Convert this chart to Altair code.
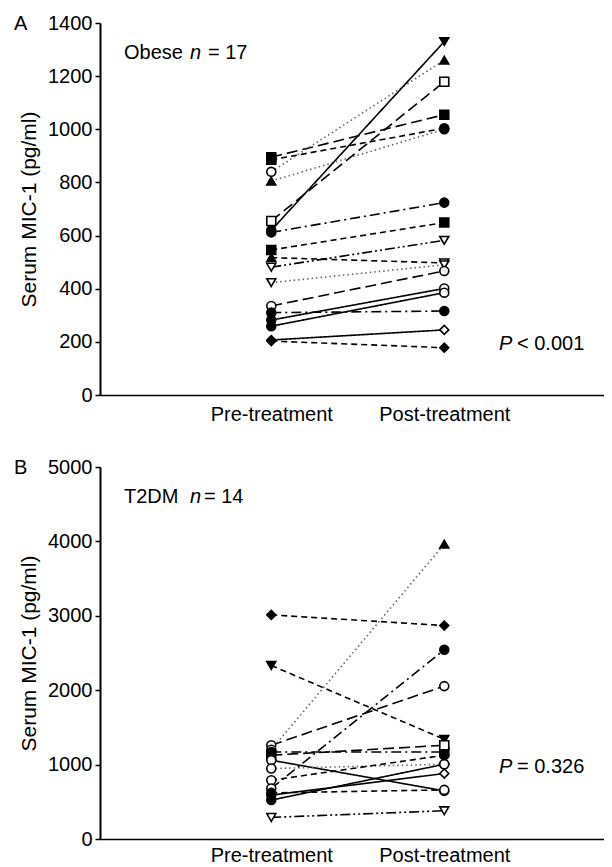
import altair as alt
import pandas as pd

# ---------------- data ----------------
phase_labels = ["Pre-treatment", "Post-treatment"]

# Panel A: Obese (n = 17)
A_pre = [895, 885, 840, 805, 655, 620, 612, 546, 517, 481, 423, 335, 310, 282, 259, 207, 203]
A_post = [1055, 1004, 1260, 1000, 1179, 1330, 724, 649, 497, 582, 490, 467, 316, 401, 385, 245, 178]
A_pre_shape = ["square", "square", "circle", "triangle-up", "square", "circle", "circle", "square",
               "triangle-up", "triangle-down", "triangle-down", "circle", "circle", "circle", "circle",
               "diamond", "diamond"]
A_pre_fill = ["F", "F", "O", "F", "O", "F", "F", "F", "F", "O", "O", "O", "F", "F", "F", "O", "F"]
A_post_shape = ["square", "circle", "triangle-up", "circle", "square", "triangle-down", "circle", "square",
                "triangle-down", "triangle-down", "triangle-down", "circle", "circle", "circle", "circle",
                "diamond", "diamond"]
A_post_fill = ["F", "F", "F", "F", "O", "F", "F", "F", "O", "O", "O", "O", "F", "O", "O", "O", "F"]
A_dash = ["longdash", "dash", "dot", "dot", "longdash", "solid", "dashdot", "dash", "dash", "dashdotdot",
          "dot", "longdash", "dashdot", "solid", "solid", "solid", "dash"]

# Panel B: T2DM (n = 14)
B_pre = [3012, 2332, 1260, 1200, 1170, 1126, 1059, 947, 790, 679, 620, 590, 523, 290]
B_post = [2869, 1340, 2055, 3963, 1170, 1260, 647, 1005, 1126, 2543, 660, 880, 1005, 380]
B_pre_shape = ["diamond", "triangle-down", "circle", "circle", "circle", "square", "circle", "circle",
               "circle", "circle", "circle", "circle", "circle", "triangle-down"]
B_pre_fill = ["F", "F", "O", "O", "F", "F", "O", "O", "O", "O", "F", "F", "F", "O"]
B_post_shape = ["diamond", "triangle-down", "circle", "triangle-up", "square", "square", "circle", "circle",
                "circle", "circle", "circle", "diamond", "circle", "triangle-down"]
B_post_fill = ["F", "F", "O", "F", "F", "O", "O", "O", "F", "F", "O", "O", "O", "O"]
B_dash = ["dash", "dash", "longdash", "dot", "dashdot", "longdash", "solid", "dot", "dash", "dashdot",
          "dash", "solid", "solid", "dashdotdot"]

dash_names = ["solid", "dash", "longdash", "dot", "dashdot", "dashdotdot"]
dash_patterns = [[1, 0], [6, 4], [11, 5], [1.5, 3], [10, 4, 2, 4], [10, 3, 2, 3, 2, 3]]
dash_colors = ["black", "black", "black", "#666666", "black", "black"]

FONT = "Liberation Sans"
PLOT_W = 504
PLOT_H = 372
X_MIN = 0.01
X_MAX = X_MIN + PLOT_W / 173.0


def make_df(pre, post, pre_s, pre_f, post_s, post_f, dash):
    rows = []
    for i in range(len(pre)):
        rows.append(dict(subj=i, phase=1, value=pre[i], shape=pre_s[i], fill=pre_f[i], dash=dash[i]))
        rows.append(dict(subj=i, phase=2, value=post[i], shape=post_s[i], fill=post_f[i], dash=dash[i]))
    return pd.DataFrame(rows)


def label(text, x, y, italic=False, size=20, align="left"):
    kw = dict(text=text, font=FONT, fontSize=size, align=align, baseline="alphabetic", color="black")
    if italic:
        kw["fontStyle"] = "italic"
    return alt.Chart(pd.DataFrame({"a": [0]})).mark_text(**kw).encode(x=alt.value(x), y=alt.value(y))


def panel(df, ymax, ystep, letter, group, n, n_x, ptext, xpad):
    x_enc = alt.X(
        "phase:Q",
        scale=alt.Scale(domain=[X_MIN, X_MAX], nice=False, zero=False),
        axis=alt.Axis(values=[1, 2], title=None, ticks=False, tickSize=0, grid=False,
                      labelExpr="datum.value == 1 ? '" + phase_labels[0] + "' : '" + phase_labels[1] + "'",
                      labelFont=FONT, labelFontSize=20, labelColor="black", labelPadding=xpad,
                      domainColor="black", domainWidth=1.6),
    )
    y_enc = alt.Y(
        "value:Q",
        scale=alt.Scale(domain=[0, ymax], nice=False),
        axis=alt.Axis(values=list(range(0, ymax + 1, ystep)), format="d", title="Serum MIC-1 (pg/ml)",
                      grid=False,
                      labelFont=FONT, labelFontSize=20, labelColor="black", labelPadding=3,
                      tickSize=5, tickWidth=1.5, tickColor="black",
                      domainColor="black", domainWidth=2,
                      titleFont=FONT, titleFontSize=21, titleFontWeight="normal", titleColor="black",
                      titlePadding=8),
    )
    base = alt.Chart(df)
    lines = base.mark_line(strokeWidth=1.6).encode(
        x=x_enc, y=y_enc, detail="subj:N",
        strokeDash=alt.StrokeDash("dash:N", scale=alt.Scale(domain=dash_names, range=dash_patterns),
                                  legend=None),
        color=alt.Color("dash:N", scale=alt.Scale(domain=dash_names, range=dash_colors), legend=None),
    )
    pts = base.mark_point(size=80, strokeWidth=1.6, stroke="black", opacity=1, filled=False).encode(
        x=x_enc, y=y_enc,
        shape=alt.Shape("shape:N", scale=alt.Scale(
            domain=["circle", "square", "triangle-up", "triangle-down", "diamond"],
            range=["circle", "square", "triangle-up", "triangle-down", "diamond"]), legend=None),
        fill=alt.Fill("fill:N", scale=alt.Scale(domain=["F", "O"], range=["black", "white"]), legend=None),
    )
    layers = [lines, pts,
              label(letter, -86, 7),
              label(group, 24, 36),
              label("n", 90, 36, italic=True),
              label(n, n_x, 36),
              label("P", 399, ptext[1], italic=True),
              label(ptext[0], 417, ptext[1])]
    return alt.layer(*layers).properties(width=PLOT_W, height=PLOT_H)


dfA = make_df(A_pre, A_post, A_pre_shape, A_pre_fill, A_post_shape, A_post_fill, A_dash)
dfB = make_df(B_pre, B_post, B_pre_shape, B_pre_fill, B_post_shape, B_post_fill, B_dash)

pA = panel(dfA, 1400, 200, "A", "Obese", "= 17", 108, ("< 0.001", 327), 9)
pB = panel(dfB, 5000, 1000, "B", "T2DM", "= 14", 104, ("= 0.326", 306), 6)

chart = (alt.vconcat(pA, pB, spacing=33)
         .configure_view(stroke=None)
         .properties(padding={"left": 6, "top": 5, "right": 0, "bottom": 2}, background="white"))

chart.save("out.html", embed_options={"renderer": "svg", "actions": False})
